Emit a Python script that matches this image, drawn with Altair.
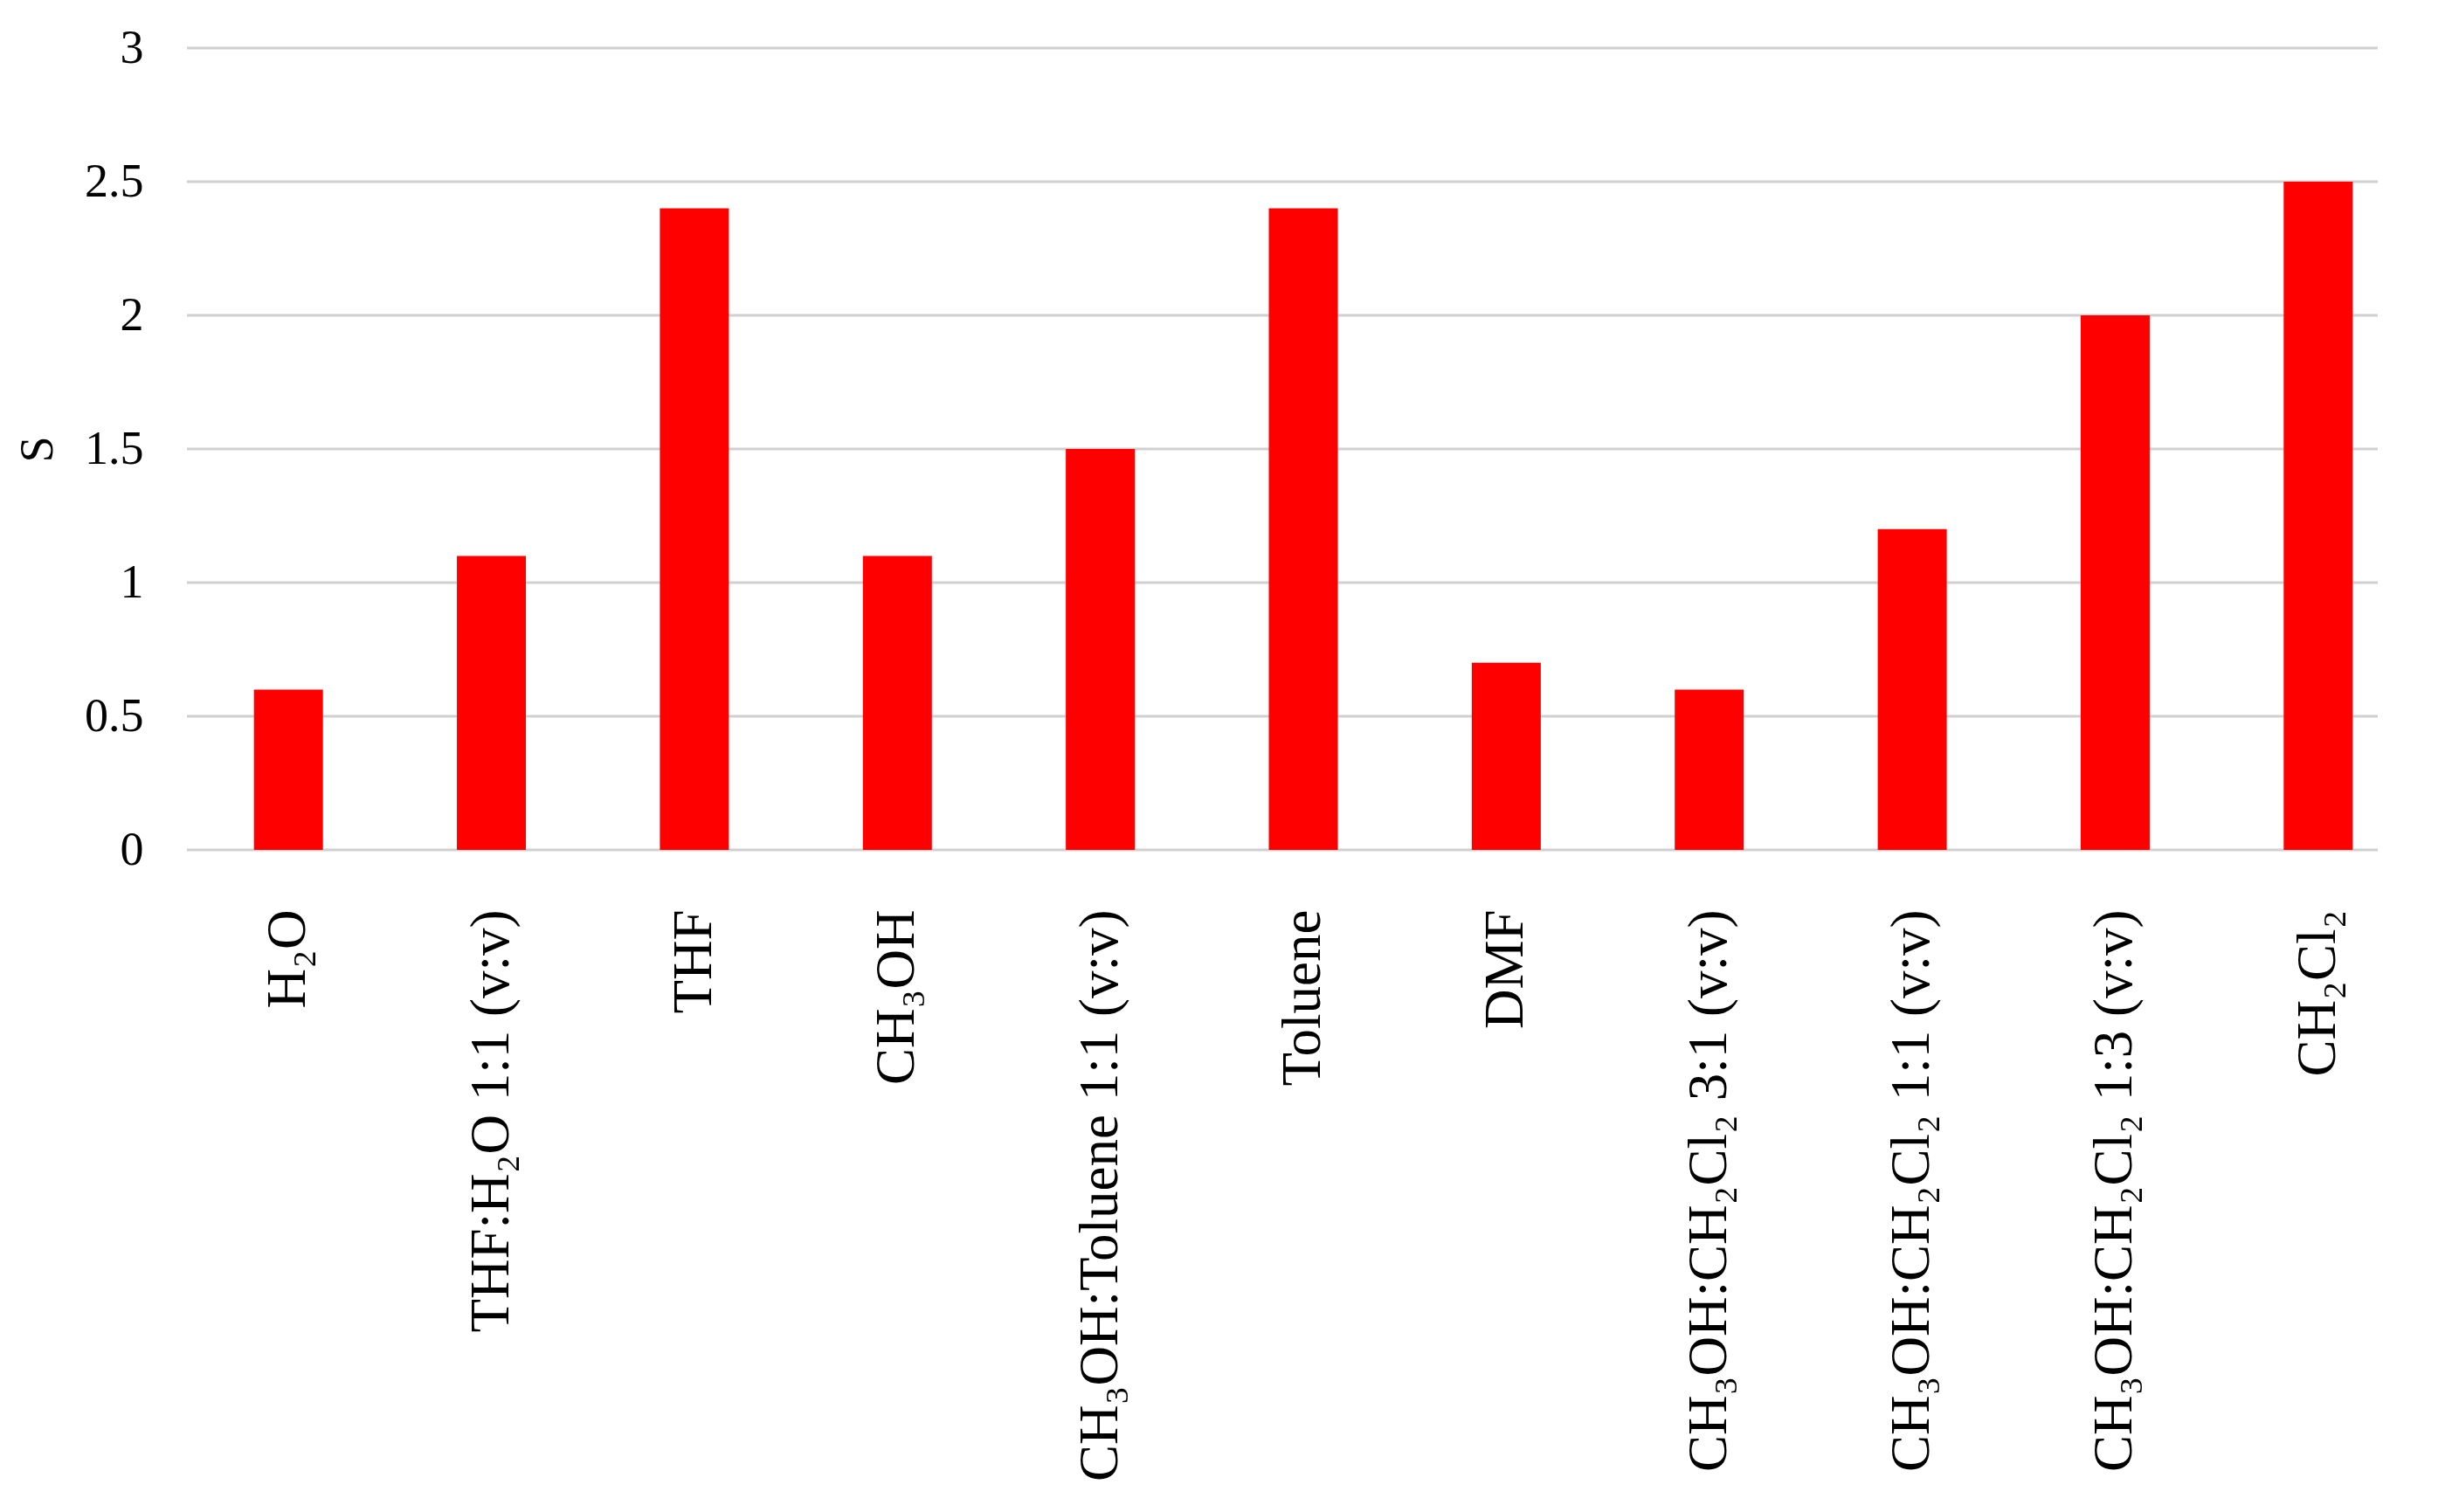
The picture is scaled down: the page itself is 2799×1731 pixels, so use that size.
import altair as alt
import pandas as pd

solvents = [
    "H₂O",
    "THF:H₂O 1:1 (v:v)",
    "THF",
    "CH₃OH",
    "CH₃OH:Toluene 1:1 (v:v)",
    "Toluene",
    "DMF",
    "CH₃OH:CH₂Cl₂ 3:1 (v:v)",
    "CH₃OH:CH₂Cl₂ 1:1 (v:v)",
    "CH₃OH:CH₂Cl₂ 1:3 (v:v)",
    "CH₂Cl₂",
]
s_values = [0.6, 1.1, 2.4, 1.1, 1.5, 2.4, 0.7, 0.6, 1.2, 2.0, 2.5]
y_ticks = [0, 0.5, 1, 1.5, 2, 2.5, 3]

df = pd.DataFrame({"solvent": solvents, "S": s_values})
grid_df = pd.DataFrame({"S": y_ticks})

FONT = "Liberation Serif"
W = 2508

y_scale = alt.Scale(domain=[0, 3], nice=False)

grid = alt.Chart(grid_df).mark_rule(color="#d0d0d0", strokeWidth=3).encode(
    y=alt.Y("S:Q", scale=y_scale),
    x=alt.value(0),
    x2=alt.value(W),
)

bars = alt.Chart(df).mark_bar(color="#ff0000").encode(
    x=alt.X(
        "solvent:N",
        sort=solvents,
        title=None,
        scale=alt.Scale(paddingInner=0.66, paddingOuter=0.33, range=[0, 2556]),
        axis=alt.Axis(
            labelAngle=270,
            labelFont=FONT,
            labelFontSize=63,
            labelColor="#000000",
            labelPadding=68,
            labelLimit=1000,
            domain=False,
            ticks=False,
            grid=False,
        ),
    ),
    y=alt.Y(
        "S:Q",
        title="S",
        scale=y_scale,
        axis=alt.Axis(
            values=y_ticks,
            format="~g",
            labelFont=FONT,
            labelFontSize=54,
            labelColor="#000000",
            labelPadding=50,
            titleFont=FONT,
            titleFontSize=54,
            titleFontWeight="normal",
            titleColor="#000000",
            titlePadding=26,
            domain=False,
            ticks=False,
            grid=False,
        ),
    ),
)

chart = alt.layer(grid, bars).properties(
    width=W,
    height=918,
    autosize=alt.AutoSizeParams(type="none"),
    padding={"left": 206, "top": 47, "right": 60, "bottom": 740},
).configure_view(stroke=None)

chart.save("out.html", embed_options={"renderer": "svg", "actions": False})
